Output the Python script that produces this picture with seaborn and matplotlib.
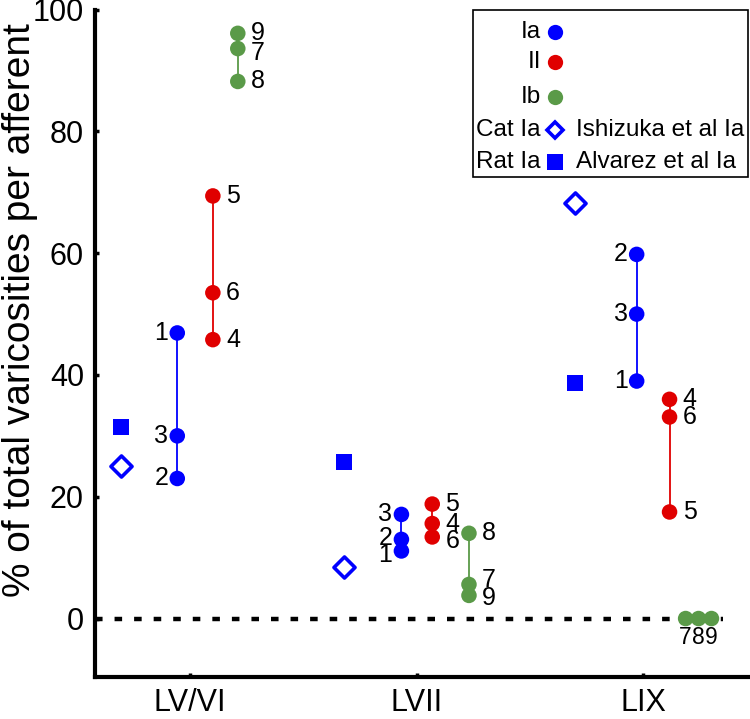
"""
Varicosities per afferent across laminae (Ia, II, Ib afferents) with
literature reference values for cat (Ishizuka et al) and rat (Alvarez et al).
"""

import numpy as np
import pandas as pd
import matplotlib
matplotlib.use("Agg")
import matplotlib.pyplot as plt
from matplotlib.patches import Rectangle
import seaborn as sns

# --- data ---------------------------------------------------------------
regions = ["LV/VI", "LVII", "LIX"]

ia_ids = [1, 2, 3]
ii_ids = [4, 5, 6]
ib_ids = [7, 8, 9]

ia_vals = {"LV/VI": [46.9, 23.0, 30.0],
           "LVII": [11.1, 13.0, 17.1],
           "LIX": [39.0, 59.8, 50.0]}
ii_vals = {"LV/VI": [45.8, 69.4, 53.5],
           "LVII": [15.6, 18.8, 13.4],
           "LIX": [36.0, 17.5, 33.1]}
ib_vals = {"LV/VI": [93.6, 88.2, 96.1],
           "LVII": [5.6, 14.0, 3.8],
           "LIX": [0.0, 0.0, 0.0]}

ishizuka_cat_ia = [25.0, 8.4, 68.2]
alvarez_rat_ia = [31.4, 25.7, 38.6]

# --- layout ---------------------------------------------------------------
colors = {"Ia": "#0000ff", "II": "#e00000", "Ib": "#5a9a48"}
# horizontal offset of each column from the region tick
x_off = {
    "LV/VI": {"ref": -0.305, "Ia": -0.057, "II": 0.10, "Ib": 0.21},
    "LVII": {"ref": -0.32, "Ia": -0.068, "II": 0.068, "Ib": 0.23},
    "LIX": {"ref": -0.30, "Ia": -0.03, "II": 0.115, "Ib": 0.243},
}
# LIX Ib all sit at zero, spread them side by side
lix_ib_spread = [-0.057, 0.0, 0.057]
# small vertical nudges of number labels (points)
nudge = {("LVII", 1): -3, ("LVII", 2): 1, ("LVII", 6): -3,
         ("LVII", 7): 3, ("LVII", 9): -2, ("LV/VI", 7): -3}

rows = []
for i, reg in enumerate(regions):
    for typ, ids, vals in [("Ia", ia_ids, ia_vals), ("II", ii_ids, ii_vals),
                           ("Ib", ib_ids, ib_vals)]:
        for k, (aid, v) in enumerate(zip(ids, vals[reg])):
            x = i + 1 + x_off[reg][typ]
            if reg == "LIX" and typ == "Ib":
                x += lix_ib_spread[k]
            rows.append({"region": reg, "type": typ, "id": aid, "x": x, "value": v})
df = pd.DataFrame(rows)

sns.set_style("ticks", {"text.color": "black", "axes.labelcolor": "black",
                        "xtick.color": "black", "ytick.color": "black",
                        "axes.edgecolor": "black"})
plt.rcParams["font.family"] = ["Liberation Sans", "DejaVu Sans"]

fig = plt.figure(figsize=(7.5, 7.19), dpi=100)
ax = fig.add_axes([95 / 750, 1 - 677 / 719, 655 / 750, (677 - 9.6) / 719])

ax.set_xlim(0.58, 3.47)
ax.set_ylim(-9.6, 100)

# zero line
ax.plot([0.58, 3.35], [0, 0], color="black", lw=3.2, ls=(0, (1.7, 2.7)),
        zorder=1)

# connecting lines for each afferent group
for (reg, typ), g in df.groupby(["region", "type"]):
    ax.plot([g["x"].iloc[0]] * 2, [g["value"].min(), g["value"].max()],
            color=colors[typ], lw=1.3, zorder=2)

sns.scatterplot(data=df, x="x", y="value", hue="type", palette=colors,
                s=125, linewidth=0, legend=False, ax=ax, zorder=3, clip_on=False)

# reference values from the literature
ref_x = [i + 1 + x_off[r]["ref"] for i, r in enumerate(regions)]
ax.scatter(ref_x, ishizuka_cat_ia, marker="D", s=115, facecolor="white",
           edgecolor="#0000ff", linewidth=2.6, zorder=3)
ax.scatter(ref_x, alvarez_rat_ia, marker="s", s=140, color="#0000ff",
           linewidth=0, zorder=3)

# afferent number labels
for _, r in df.iterrows():
    dy = nudge.get((r["region"], r["id"]), 0)
    if r["region"] == "LIX" and r["type"] == "Ib":
        ax.annotate(str(r["id"]), (r["x"], r["value"]), xytext=(0, -14),
                    textcoords="offset points", ha="center", va="center",
                    fontsize=16.5)
    elif r["type"] == "Ia":
        ax.annotate(str(r["id"]), (r["x"], r["value"]), xytext=(-6.5, dy),
                    textcoords="offset points", ha="right", va="center",
                    fontsize=18)
    else:
        ax.annotate(str(r["id"]), (r["x"], r["value"]), xytext=(9.5, dy),
                    textcoords="offset points", ha="left", va="center",
                    fontsize=18)

ax.set_xticks([1, 2, 3])
ax.set_xticklabels(regions)
ax.set_yticks([0, 20, 40, 60, 80, 100])
ax.tick_params(direction="in", length=3, width=2.5, labelsize=22, pad=8)
ax.set_xlabel("")
ax.set_ylabel("% of total varicosities per afferent", fontsize=28)
ax.yaxis.set_label_coords(-0.087, 0.55)
for side in ["top", "right"]:
    ax.spines[side].set_visible(False)
for side in ["left", "bottom"]:
    ax.spines[side].set_linewidth(3)

# hand-built legend (text on the left of each marker)
def fp(x, y):
    return (x / 750, 1 - y / 719)

fig.add_artist(Rectangle(fp(473, 177), 275 / 750, 167 / 719,
                         transform=fig.transFigure, fill=False,
                         edgecolor="black", lw=1.2))
legend_rows = [
    ("Ia", "o", colors["Ia"], colors["Ia"], "", 32),
    ("II", "o", colors["II"], colors["II"], "", 62),
    ("Ib", "o", colors["Ib"], colors["Ib"], "", 97),
    ("Cat Ia", "D", "white", "#0000ff", "Ishizuka et al Ia", 130),
    ("Rat Ia", "s", "#0000ff", "#0000ff", "Alvarez et al Ia", 162),
]
for left, mk, fc, ec, right, yy in legend_rows:
    fig.text(*fp(541, yy), left, ha="right", va="center", fontsize=17.5)
    ms = {"o": 11, "D": 8.5, "s": 11.5}[mk]
    fig.add_artist(plt.Line2D([fp(555, yy)[0]], [fp(555, yy)[1]], marker=mk,
                              ms=ms, mfc=fc, mec=ec, mew=2.6 if mk == "D" else 0,
                              transform=fig.transFigure))
    if right:
        fig.text(*fp(576, yy), right, ha="left", va="center", fontsize=17.5)

fig.savefig("out.png", dpi=100)
